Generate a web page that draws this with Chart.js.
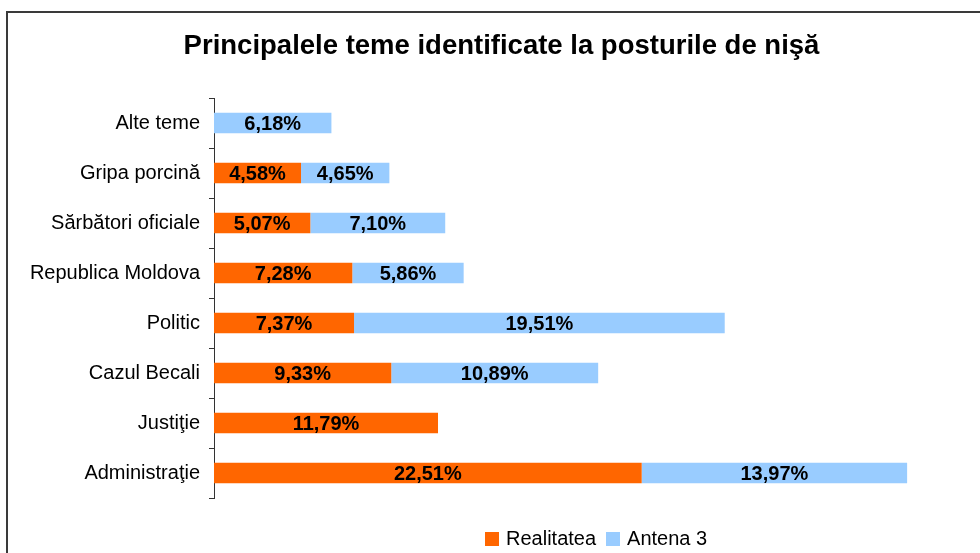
<!DOCTYPE html>
<html>
<head>
<meta charset="utf-8">
<title>Principalele teme identificate la posturile de nişă</title>
<script src="https://cdn.jsdelivr.net/npm/chart.js@4.4.0/dist/chart.umd.min.js"></script>
<style>
  html, body { margin: 0; padding: 0; background: #fff; overflow: hidden; }
  #wrap { position: relative; width: 980px; height: 553px; }
  #frame {
    position: absolute; left: 6px; top: 11px; width: 1000px; height: 600px;
    border: 2px solid #3a3a3a; box-sizing: border-box;
  }
  #chart { position: absolute; left: 0; top: 0; }
  #legend {
    position: absolute; left: 485px; top: 527px; display: flex; gap: 10px;
    font: 20px "Liberation Sans", Arial, sans-serif; color: #000;
  }
  #legend span.item { display: flex; align-items: center; }
  #legend span.box { display: inline-block; width: 14px; height: 14px; margin-right: 7px; }
</style>
</head>
<body>
<div id="wrap">
  <div id="frame"></div>
  <canvas id="chart" width="980" height="553"></canvas>
  <div id="legend"></div>
</div>
<script>
// Chart data
const categories = [
  'Alte teme',
  'Gripa porcină',
  'Sărbători oficiale',
  'Republica Moldova',
  'Politic',
  'Cazul Becali',
  'Justiţie',
  'Administraţie'
];
const realitatea = [null, 4.58, 5.07, 7.28, 7.37, 9.33, 11.79, 22.51];
const antena3 = [6.18, 4.65, 7.10, 5.86, 19.51, 10.89, null, 13.97];

const ORANGE = '#FF6600';
const BLUE = '#99CCFF';

// Draw the value labels in the middle of each segment
const valueLabels = {
  id: 'valueLabels',
  afterDatasetsDraw(chart) {
    const ctx = chart.ctx;
    ctx.save();
    ctx.font = 'bold 20px "Liberation Sans", Arial, sans-serif';
    ctx.fillStyle = '#000';
    ctx.textAlign = 'center';
    ctx.textBaseline = 'middle';
    chart.data.datasets.forEach((ds, i) => {
      const meta = chart.getDatasetMeta(i);
      meta.data.forEach((bar, j) => {
        const v = ds.data[j];
        if (v === null || v === undefined) return;
        const { x, y, base } = bar.getProps(['x', 'y', 'base'], true);
        const label = v.toFixed(2).replace('.', ',') + '%';
        ctx.fillText(label, (x + base) / 2, y + 1);
      });
    });
    ctx.restore();
  }
};

const chart = new Chart(document.getElementById('chart'), {
  type: 'bar',
  data: {
    labels: categories,
    datasets: [
      { label: 'Realitatea', data: realitatea, backgroundColor: ORANGE },
      { label: 'Antena 3', data: antena3, backgroundColor: BLUE }
    ]
  },
  options: {
    indexAxis: 'y',
    responsive: false,
    animation: false,
    events: [],
    layout: {
      padding: { left: 29, right: 6, top: 0, bottom: 55 }
    },
    datasets: {
      bar: { categoryPercentage: 1, barPercentage: 0.41 }
    },
    scales: {
      x: {
        stacked: true,
        display: false,
        min: 0,
        max: 40
      },
      y: {
        stacked: true,
        afterFit: (scale) => { scale.width = 185; },
        grid: {
          offset: true,
          drawOnChartArea: false,
          drawTicks: true,
          tickLength: 5,
          color: '#333'
        },
        border: { display: true, color: '#333', width: 1 },
        ticks: {
          padding: 9,
          color: '#000',
          font: { family: '"Liberation Sans", Arial, sans-serif', size: 20 }
        }
      }
    },
    plugins: {
      legend: { display: false },
      tooltip: { enabled: false },
      title: {
        display: true,
        text: 'Principalele teme identificate la posturile de nişă',
        color: '#000',
        font: { family: '"Liberation Sans", Arial, sans-serif', size: 27.5, weight: 'bold', lineHeight: 1.2 },
        padding: { top: 30, bottom: 35 }
      }
    }
  },
  plugins: [valueLabels]
});

// HTML legend built from the datasets
const legend = document.getElementById('legend');
chart.data.datasets.forEach(ds => {
  const item = document.createElement('span');
  item.className = 'item';
  const box = document.createElement('span');
  box.className = 'box';
  box.style.background = ds.backgroundColor;
  item.appendChild(box);
  item.appendChild(document.createTextNode(ds.label));
  legend.appendChild(item);
});
</script>
</body>
</html>
